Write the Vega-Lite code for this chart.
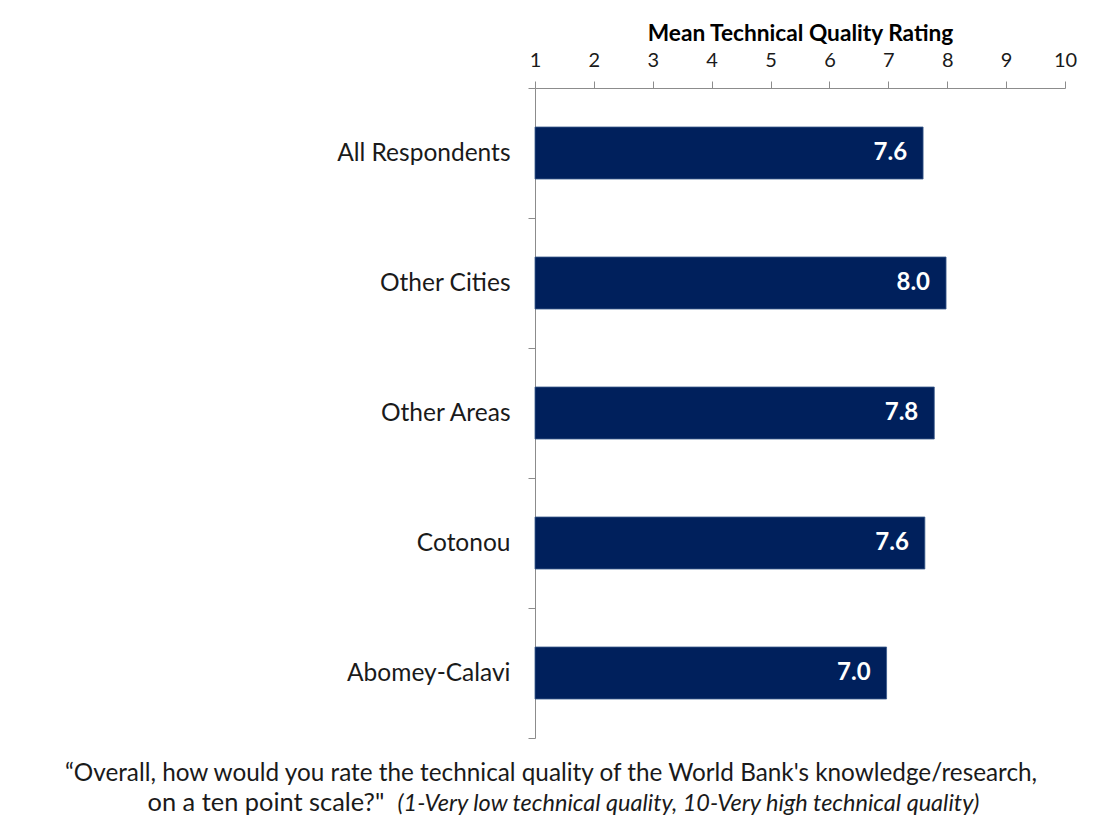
{
  "$schema": "https://vega.github.io/schema/vega-lite/v6.json",
  "width": 530,
  "height": 650,
  "autosize": {"type": "none"},
  "padding": {"left": 535, "top": 88, "right": 41, "bottom": 93},
  "background": "white",
  "config": {
    "view": {"stroke": null},
    "font": "Lato",
    "axis": {"labelFont": "Lato", "titleFont": "Lato", "grid": false}
  },
  "title": {
    "text": "“Overall, how would you rate the technical quality of the World Bank's knowledge/research,",
    "orient": "bottom",
    "anchor": "middle",
    "frame": "group",
    "dx": -249,
    "offset": -53,
    "font": "Lato",
    "fontSize": 24.3,
    "fontWeight": "normal",
    "color": "#1a1a1a"
  },
  "data": {
    "values": [
      {"group": "All Respondents", "rating": 7.59},
      {"group": "Other Cities", "rating": 7.98},
      {"group": "Other Areas", "rating": 7.78},
      {"group": "Cotonou", "rating": 7.62},
      {"group": "Abomey-Calavi", "rating": 6.97}
    ]
  },
  "encoding": {
    "y": {
      "field": "group",
      "type": "nominal",
      "sort": null,
      "scale": {"paddingInner": 0, "paddingOuter": 0},
      "axis": {
        "orient": "left",
        "title": "(1-Very low technical quality, 10-Very high technical quality)",
        "titleAngle": 0,
        "titleX": -138,
        "titleY": 722,
        "titleAlign": "left",
        "titleBaseline": "alphabetic",
        "titleFontStyle": "italic",
        "titleFontWeight": "normal",
        "titleFontSize": 23.5,
        "titleColor": "#1a1a1a",
        "tickBand": "extent",
        "tickSize": 7,
        "tickColor": "#8c8c8c",
        "domainColor": "#8c8c8c",
        "labelFontSize": 24.5,
        "labelColor": "#1a1a1a",
        "labelPadding": 18
      }
    }
  },
  "layer": [
    {
      "mark": {"type": "bar", "color": "#00205c", "stroke": "#3a5a8c", "strokeWidth": 0.8, "height": {"band": 0.4}},
      "encoding": {
        "x": {
          "field": "rating",
          "type": "quantitative",
          "scale": {"domain": [1, 10], "nice": false, "zero": false},
          "axis": {
            "orient": "top",
            "title": "Mean Technical Quality Rating",
            "titleFontSize": 22.7,
            "titleFontWeight": "bold",
            "titleColor": "#000000",
            "titlePadding": 5,
            "values": [1, 2, 3, 4, 5, 6, 7, 8, 9, 10],
            "tickSize": 7,
            "tickColor": "#8c8c8c",
            "domainColor": "#8c8c8c",
            "labelFontSize": 20,
            "labelColor": "#1a1a1a",
            "labelPadding": 11,
            "labelFlush": false
          }
        },
        "x2": {"datum": 1}
      }
    },
    {
      "mark": {"type": "text", "align": "right", "baseline": "middle", "dx": -16, "color": "white", "fontSize": 24, "fontWeight": "bold", "font": "Lato"},
      "encoding": {
        "x": {
          "field": "rating",
          "type": "quantitative",
          "axis": {
            "orient": "bottom",
            "domain": false,
            "ticks": false,
            "labels": false,
            "title": "on a ten point scale?\"",
            "titleX": -388,
            "titleY": 72,
            "titleAlign": "left",
            "titleAnchor": null,
            "titleBaseline": "alphabetic",
            "titleFontSize": 25.4,
            "titleFontWeight": "normal",
            "titleColor": "#1a1a1a"
          }
        },
        "text": {"field": "rating", "type": "quantitative", "format": ".1f"}
      }
    }
  ],
  "resolve": {"axis": {"x": "independent"}}
}
